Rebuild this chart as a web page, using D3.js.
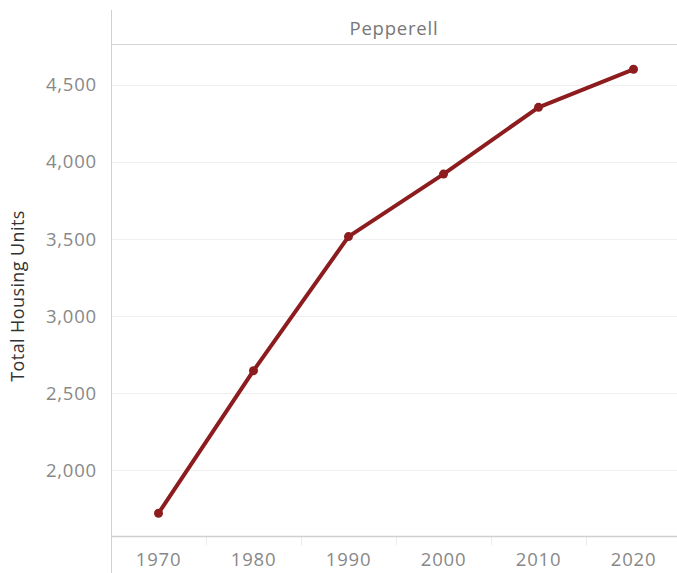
<!DOCTYPE html>
<html>
<head>
<meta charset="utf-8">
<script src="https://cdn.jsdelivr.net/npm/d3@7"></script>
<style>
  body { margin: 0; background: #fff; }
  svg text { font-family: "Open Sans", Lato, sans-serif; }
</style>
</head>
<body>
<div class="chart"></div>
<script>
var width = 677;
var height = 573;
var years = ["1970", "1980", "1990", "2000", "2010", "2020"];
var units = [1721, 2646, 3516, 3922, 4355, 4602];
var yTicks = [2000, 2500, 3000, 3500, 4000, 4500];
var town = "Pepperell";

var plot = { left: 111, right: 677, top: 44, bottom: 536.5 };

var svg = d3.select(".chart")
  .append("svg")
  .attr("width", width)
  .attr("height", height);

var x = d3.scaleBand()
  .domain(years)
  .range([plot.left, plot.left + 95 * years.length])
  .padding(0);

var y = d3.scaleLinear()
  .domain([1570, 4766])
  .range([plot.bottom, plot.top]);

// grid lines
svg.selectAll(".grid")
  .data(yTicks)
  .enter()
  .append("line")
  .attr("x1", plot.left)
  .attr("x2", plot.right)
  .attr("y1", d => Math.round(y(d)) + 0.5)
  .attr("y2", d => Math.round(y(d)) + 0.5)
  .style("stroke", "#efefef");

// header
svg.append("line")
  .attr("x1", plot.left)
  .attr("x2", plot.right)
  .attr("y1", plot.top + 0.5)
  .attr("y2", plot.top + 0.5)
  .style("stroke", "#d4d4d4");

svg.append("text")
  .attr("x", (plot.left + plot.right) / 2)
  .attr("y", 35)
  .attr("text-anchor", "middle")
  .style("font-size", "18.5px")
  .style("letter-spacing", "0.8px")
  .style("fill", "#777")
  .text(town);

// y axis
var yAxis = svg.append("g")
  .attr("transform", `translate(${plot.left},0)`)
  .call(d3.axisLeft(y).tickValues(yTicks).tickSize(0).tickPadding(14)
    .tickFormat(d3.format(",")));
yAxis.select(".domain").remove();
yAxis.selectAll("text")
  .style("font-size", "18.5px")
  .style("letter-spacing", "0.8px")
  .style("fill", "#888");

svg.append("line")
  .attr("x1", plot.left + 0.5)
  .attr("x2", plot.left + 0.5)
  .attr("y1", 10)
  .attr("y2", height)
  .style("stroke", "#d0d0d0");

svg.append("text")
  .attr("transform", "translate(24,296) rotate(-90)")
  .attr("text-anchor", "middle")
  .style("font-size", "18px")
  .style("letter-spacing", "0.4px")
  .style("fill", "#333")
  .text("Total Housing Units");

// x axis
var xAxis = svg.append("g")
  .attr("transform", `translate(0,${plot.bottom})`)
  .call(d3.axisBottom(x).tickSize(0).tickPadding(16));
xAxis.select(".domain").remove();
xAxis.selectAll("text")
  .style("font-size", "18.5px")
  .style("letter-spacing", "0.8px")
  .style("fill", "#888");

svg.selectAll(".sep")
  .data(years.slice(1))
  .enter()
  .append("line")
  .attr("x1", d => Math.round(x(d)) + 0.5)
  .attr("x2", d => Math.round(x(d)) + 0.5)
  .attr("y1", plot.bottom)
  .attr("y2", plot.bottom + 9)
  .style("stroke", "#ececec");

svg.append("line")
  .attr("x1", plot.left)
  .attr("x2", plot.right)
  .attr("y1", plot.bottom)
  .attr("y2", plot.bottom)
  .style("stroke", "#cfcfcf")
  .style("stroke-width", 1.5);

// line + points
var line = d3.line()
  .x((d, i) => x(years[i]) + x.bandwidth() / 2)
  .y(d => y(d));

svg.append("path")
  .datum(units)
  .attr("d", line)
  .style("fill", "none")
  .style("stroke", "#8c1c1e")
  .style("stroke-width", 4)
  .style("stroke-linejoin", "round");

svg.selectAll(".pt")
  .data(units)
  .enter()
  .append("circle")
  .attr("cx", (d, i) => x(years[i]) + x.bandwidth() / 2)
  .attr("cy", d => y(d))
  .attr("r", 4.5)
  .style("fill", "#8c1c1e");
</script>
</body>
</html>
